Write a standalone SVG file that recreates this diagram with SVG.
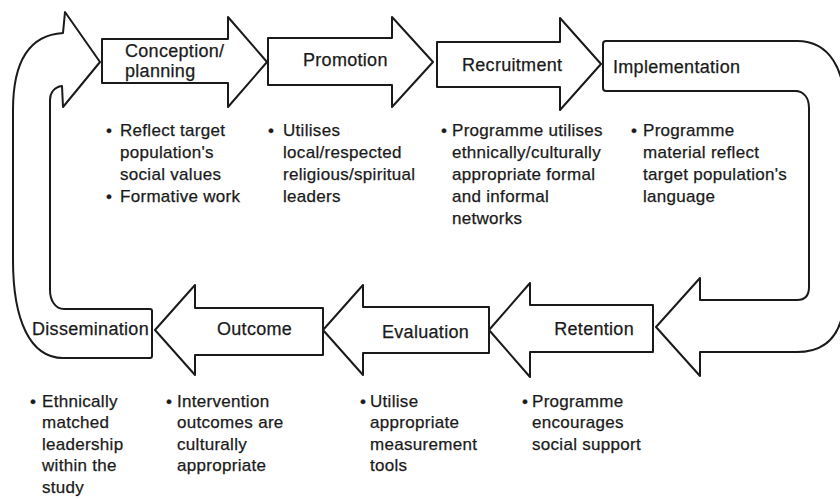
<svg xmlns="http://www.w3.org/2000/svg" width="840" height="499" viewBox="0 0 840 499">
<style>
.shape{fill:#fff;stroke:#1a1a1a;stroke-width:2;stroke-linejoin:round;stroke-linecap:round}
.lbl{font-family:"Liberation Sans",Arial,Helvetica,sans-serif;font-size:18px;letter-spacing:0.3px;fill:#1a1a1a;stroke:#1a1a1a;stroke-width:0.25}
.txt{font-family:"Liberation Sans",Arial,Helvetica,sans-serif;font-size:17px;letter-spacing:0.3px;fill:#1a1a1a;stroke:#1a1a1a;stroke-width:0.25}
</style>
<rect width="840" height="499" fill="#fff"/>
<g id="connectors">
  <path id="loop-left" class="shape" d="M 70,309 L 64,309 C 55,309 50,300 50,290 L 50,100 C 50,93 54,87 62,86 L 63,107 L 100,62 L 65,12 L 63,33 C 30,35 13,60 13,110 L 13,260 C 13,320 30,358 63,358 L 70,358"/>
  <path id="loop-right" class="shape" d="M 797,41 C 830,41 845,70 845,110 L 845,290 C 845,330 830,352 797,352 L 700,352 L 700,376 L 656,327 L 700,278 L 700,300 L 797,300 C 805,300 809,295 809,287 L 809,108 C 809,98 804,91 795,91"/>
</g>
<g id="conception">
  <path class="shape" d="M 102,39 L 228,39 L 228,17 L 267,62 L 228,107 L 228,83 L 102,83 Z"/>
  <text class="lbl" x="125" y="57">Conception/</text>
  <text class="lbl" x="125" y="77">planning</text>
  <text class="txt" x="106" y="136">•</text>
  <text class="txt" x="120" y="136">Reflect target</text>
  <text class="txt" x="120" y="158">population's</text>
  <text class="txt" x="120" y="180">social values</text>
  <text class="txt" x="106" y="202">•</text>
  <text class="txt" x="120" y="202">Formative work</text>
</g>
<g id="promotion">
  <path class="shape" d="M 268,38 L 392,38 L 392,17 L 433,62 L 392,107 L 392,85 L 268,85 Z"/>
  <text class="lbl" x="303" y="66">Promotion</text>
  <text class="txt" x="268" y="136">•</text>
  <text class="txt" x="283" y="136">Utilises</text>
  <text class="txt" x="283" y="158">local/respected</text>
  <text class="txt" x="283" y="180">religious/spiritual</text>
  <text class="txt" x="283" y="202">leaders</text>
</g>
<g id="recruitment">
  <path class="shape" d="M 437,42 L 560,42 L 560,18 L 601,64 L 560,110 L 560,87 L 437,87 Z"/>
  <text class="lbl" x="462" y="71">Recruitment</text>
  <text class="txt" x="441" y="136">•</text>
  <text class="txt" x="452" y="136">Programme utilises</text>
  <text class="txt" x="452" y="158">ethnically/culturally</text>
  <text class="txt" x="452" y="180">appropriate formal</text>
  <text class="txt" x="452" y="202">and informal</text>
  <text class="txt" x="452" y="224">networks</text>
</g>
<g id="implementation">
  <path class="shape" d="M 797,41 L 606,41 Q 603,41 603,44 L 603,88 Q 603,91 606,91 L 797,91"/>
  <text class="lbl" x="613" y="73">Implementation</text>
  <text class="txt" x="631" y="136">•</text>
  <text class="txt" x="643" y="136">Programme</text>
  <text class="txt" x="643" y="158">material reflect</text>
  <text class="txt" x="643" y="180">target population's</text>
  <text class="txt" x="643" y="202">language</text>
</g>
<g id="retention">
  <path class="shape" d="M 653,305 L 530,305 L 530,283 L 489,330 L 530,377 L 530,352 L 653,352 Z"/>
  <text class="lbl" x="634" y="335" text-anchor="end">Retention</text>
  <text class="txt" x="522" y="407">•</text>
  <text class="txt" x="532" y="407">Programme</text>
  <text class="txt" x="532" y="428">encourages</text>
  <text class="txt" x="532" y="450">social support</text>
</g>
<g id="evaluation">
  <path class="shape" d="M 489,307 L 363,307 L 363,285 L 323,330 L 363,375 L 363,353 L 489,353 Z"/>
  <text class="lbl" x="382" y="338">Evaluation</text>
  <text class="txt" x="360" y="407">•</text>
  <text class="txt" x="370" y="407">Utilise</text>
  <text class="txt" x="370" y="428">appropriate</text>
  <text class="txt" x="370" y="450">measurement</text>
  <text class="txt" x="370" y="471">tools</text>
</g>
<g id="outcome">
  <path class="shape" d="M 323,308 L 195,308 L 195,285 L 155,330 L 195,375 L 195,355 L 323,355 Z"/>
  <text class="lbl" x="217" y="335">Outcome</text>
  <text class="txt" x="166" y="407">•</text>
  <text class="txt" x="177" y="407">Intervention</text>
  <text class="txt" x="177" y="428">outcomes are</text>
  <text class="txt" x="177" y="450">culturally</text>
  <text class="txt" x="177" y="471">appropriate</text>
</g>
<g id="dissemination">
  <path class="shape" d="M 70,309 L 150,309 Q 152,309 152,311 L 152,356 Q 152,358 150,358 L 70,358"/>
  <text class="lbl" x="32" y="335">Dissemination</text>
  <text class="txt" x="30" y="407">•</text>
  <text class="txt" x="42" y="407">Ethnically</text>
  <text class="txt" x="42" y="428">matched</text>
  <text class="txt" x="42" y="450">leadership</text>
  <text class="txt" x="42" y="471">within the</text>
  <text class="txt" x="42" y="493">study</text>
</g>
</svg>
